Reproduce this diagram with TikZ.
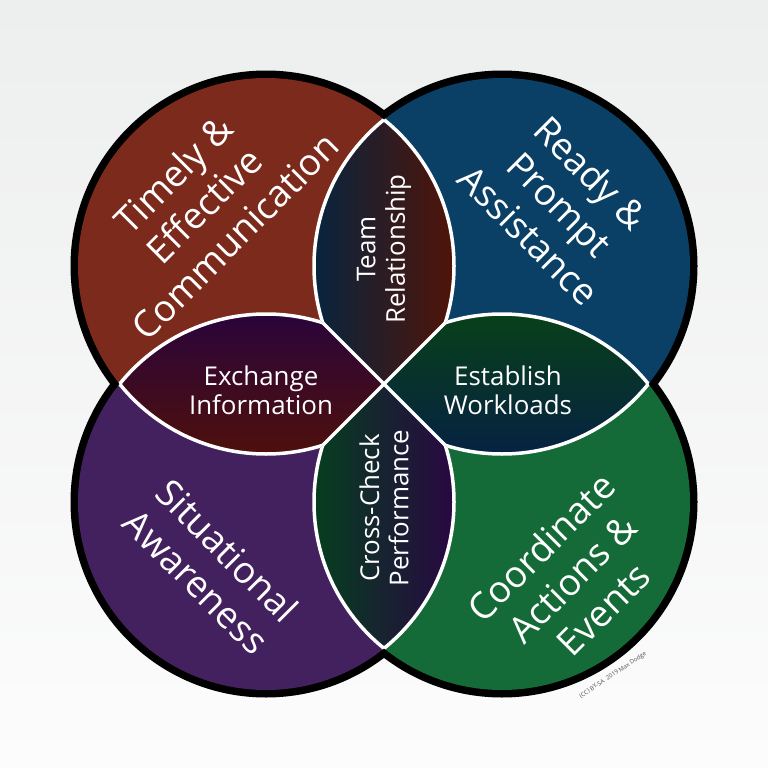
\documentclass[tikz,border=0pt]{standalone}
\usepackage{fontspec}
\setmainfont{Open Sans}
\definecolor{bgtop}{RGB}{237,238,238}
\definecolor{bgbot}{RGB}{252,252,252}
\definecolor{cRed}{RGB}{124,42,28}
\definecolor{cBlue}{RGB}{10,64,102}
\definecolor{cPurple}{RGB}{67,33,94}
\definecolor{cGreen}{RGB}{21,107,56}
\definecolor{lNavy}{RGB}{8,36,62}
\definecolor{lRed}{RGB}{80,20,8}
\definecolor{lPurple}{RGB}{42,4,58}
\definecolor{lRedB}{RGB}{78,16,12}
\definecolor{lGreen}{RGB}{8,64,26}
\definecolor{lNavyB}{RGB}{6,34,66}
\definecolor{lGreenB}{RGB}{6,62,30}
\definecolor{lPurpleB}{RGB}{40,8,66}
\definecolor{credit}{RGB}{80,80,80}
\begin{document}
\begin{tikzpicture}[x=1bp,y=-1bp,
  bigtext/.style={text=white, align=center, font=\fontsize{37}{44}\selectfont},
  lenstext/.style={text=white, align=center, font=\fontsize{26}{29.5}\selectfont},
  lensline/.style={white, line width=3.5bp},
  credittext/.style={text=credit, font=\fontsize{6}{7}\selectfont},
]
\useasboundingbox (0,0) rectangle (768,768);
\shade[top color=bgtop, bottom color=bgbot] (0,0) rectangle (768,768);
\coordinate (cTL) at (266,266);
\coordinate (cTR) at (502,266);
\coordinate (cBL) at (266,502);
\coordinate (cBR) at (502,502);
\coordinate (jTL) at (322.8,322.8);
\coordinate (jTR) at (445.2,322.8);
\coordinate (jBL) at (322.8,445.2);
\coordinate (jBR) at (445.2,445.2);
% black outer rings
\foreach \c in {cTL,cTR,cBL,cBR} \fill[black] (\c) circle[radius=195.5];
% coloured discs
\fill[cRed] (cTL) circle[radius=188];
\fill[cBlue] (cTR) circle[radius=188];
\fill[cPurple] (cBL) circle[radius=188];
\fill[cGreen] (cBR) circle[radius=188];
% lens: Team Relationship (TL and TR, top quarter)
\begin{scope}
  \clip (cTL) circle[radius=188];
  \clip (cTR) circle[radius=188];
  \clip (0,0) -- (768,0) -- (384,384) -- cycle;
  \shade[left color=lNavy, right color=lRed] (314,100) rectangle (454,390);
\end{scope}
% lens: Exchange Information (TL and BL, left quarter)
\begin{scope}
  \clip (cTL) circle[radius=188];
  \clip (cBL) circle[radius=188];
  \clip (0,0) -- (384,384) -- (0,768) -- cycle;
  \shade[top color=lPurple, bottom color=lRedB] (100,314) rectangle (390,454);
\end{scope}
% lens: Establish Workloads (TR and BR, right quarter)
\begin{scope}
  \clip (cTR) circle[radius=188];
  \clip (cBR) circle[radius=188];
  \clip (768,0) -- (384,384) -- (768,768) -- cycle;
  \shade[top color=lGreen, bottom color=lNavyB] (378,314) rectangle (668,454);
\end{scope}
% lens: Cross-Check Performance (BL and BR, bottom quarter)
\begin{scope}
  \clip (cBL) circle[radius=188];
  \clip (cBR) circle[radius=188];
  \clip (0,768) -- (384,384) -- (768,768) -- cycle;
  \shade[left color=lGreenB, right color=lPurpleB] (314,378) rectangle (454,668);
\end{scope}
% white lens borders
\begin{scope}
  \clip (cTL) circle[radius=188];
  \clip (0,0) -- (768,0) -- (384,384) -- cycle;
  \draw[lensline] (cTR) circle[radius=188];
\end{scope}
\begin{scope}
  \clip (cTR) circle[radius=188];
  \clip (0,0) -- (768,0) -- (384,384) -- cycle;
  \draw[lensline] (cTL) circle[radius=188];
\end{scope}
\begin{scope}
  \clip (cTL) circle[radius=188];
  \clip (0,0) -- (384,384) -- (0,768) -- cycle;
  \draw[lensline] (cBL) circle[radius=188];
\end{scope}
\begin{scope}
  \clip (cBL) circle[radius=188];
  \clip (0,0) -- (384,384) -- (0,768) -- cycle;
  \draw[lensline] (cTL) circle[radius=188];
\end{scope}
\begin{scope}
  \clip (cTR) circle[radius=188];
  \clip (768,0) -- (384,384) -- (768,768) -- cycle;
  \draw[lensline] (cBR) circle[radius=188];
\end{scope}
\begin{scope}
  \clip (cBR) circle[radius=188];
  \clip (768,0) -- (384,384) -- (768,768) -- cycle;
  \draw[lensline] (cTR) circle[radius=188];
\end{scope}
\begin{scope}
  \clip (cBL) circle[radius=188];
  \clip (0,768) -- (384,384) -- (768,768) -- cycle;
  \draw[lensline] (cBR) circle[radius=188];
\end{scope}
\begin{scope}
  \clip (cBR) circle[radius=188];
  \clip (0,768) -- (384,384) -- (768,768) -- cycle;
  \draw[lensline] (cBL) circle[radius=188];
\end{scope}
\draw[lensline] (jTL) -- (jBR);
\draw[lensline] (jTR) -- (jBL);
% texts
\node[bigtext, rotate=45] (tl) at (204,205) {Timely \&\\Effective\\Communication};
\node[bigtext, rotate=-45] (tr) at (560,204) {Ready \&\\Prompt\\Assistance};
\node[bigtext, rotate=-45] (bl) at (212,566) {Situational\\Awareness};
\node[bigtext, rotate=45] (br) at (572,578) {Coordinate\\Actions \&\\Events};
\node[lenstext, rotate=90] (team) at (384,249) {Team\\Relationship};
\node[lenstext] (ex) at (261,390) {Exchange\\Information};
\node[lenstext] (est) at (508,390) {Establish\\Workloads};
\node[lenstext, rotate=90] (cc) at (384,508) {Cross-Check\\Performance};
\node[credittext, rotate=33.5] (cr) at (613,675) {(CC) BY-SA\ \ 2019 Max Dodge};
\end{tikzpicture}
\end{document}
